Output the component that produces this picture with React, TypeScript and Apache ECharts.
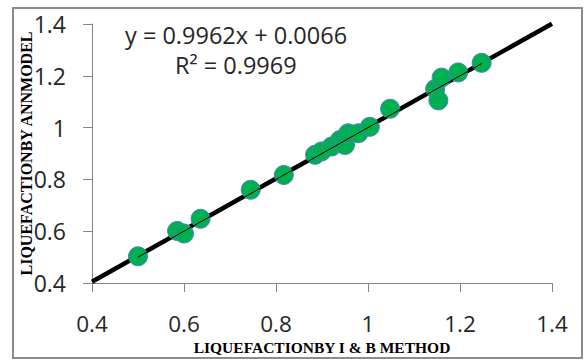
import React, { useEffect, useRef } from "react";
import * as echarts from "echarts";

const xTicks = [0.4, 0.6, 0.8, 1.0, 1.2, 1.4];
const ibMethod = [0.5, 0.585, 0.6, 0.636, 0.745, 0.817, 0.885, 0.899, 0.921, 0.939, 0.95, 0.957, 0.979, 1.004, 1.048, 1.146, 1.153, 1.16, 1.196, 1.247];
const annModel = [0.503, 0.601, 0.591, 0.648, 0.76, 0.817, 0.895, 0.908, 0.927, 0.952, 0.933, 0.978, 0.978, 1.003, 1.073, 1.149, 1.105, 1.193, 1.213, 1.25];
const slope = 0.9962;
const intercept = 0.0066;
const rSquared = 0.9969;

const FONT = "'Open Sans', sans-serif";
const SERIF = "'Liberation Serif', 'Times New Roman', serif";

export default function App() {
  const ref = useRef<HTMLDivElement>(null);
  useEffect(() => {
    if (!ref.current) return;
    const chart = echarts.init(ref.current, null, { renderer: "svg" });
    const points = ibMethod.map((x, i) => [x, annModel[i]]);
    const xMin = xTicks[0];
    const xMax = xTicks[xTicks.length - 1];
    const trend = [xMin, xMax].map((x) => [x, slope * x + intercept]);
    const dMin = Math.min(...ibMethod);
    const dMax = Math.max(...ibMethod);
    const thin = [[dMin, dMin], [dMax, dMax]];
    chart.setOption({
      animation: false,
      grid: { left: 92, right: 32, top: 24, bottom: 73 },
      xAxis: {
        type: "value",
        min: 0.4,
        max: 1.4,
        interval: 0.2,
        name: "LIQUEFACTIONBY I & B METHOD",
        nameLocation: "middle",
        nameGap: 57,
        nameMoveOverlap: false,
        nameTextStyle: { fontFamily: SERIF, fontWeight: "bold", fontSize: 15.5, lineHeight: 14, color: "#000" },
        axisLine: { show: true, lineStyle: { color: "#868686", width: 1 } },
        axisTick: { show: true, length: 9, lineStyle: { color: "#868686" } },
        axisLabel: {
          fontFamily: FONT,
          fontSize: 22.5,
          lineHeight: 20,
          color: "#262626",
          margin: 30,
          formatter: (v: number) => String(Math.round(v * 10) / 10),
        },
        splitLine: { show: false },
      },
      yAxis: {
        type: "value",
        min: 0.4,
        max: 1.4,
        interval: 0.2,
        name: "LIQUEFACTIONBY ANNMODEL",
        nameLocation: "middle",
        nameGap: 58,
        nameMoveOverlap: false,
        nameTextStyle: { fontFamily: SERIF, fontWeight: "bold", fontSize: 16, color: "#000" },
        axisLine: { show: true, lineStyle: { color: "#868686", width: 1 } },
        axisTick: { show: true, length: 9, lineStyle: { color: "#868686" } },
        axisLabel: {
          fontFamily: FONT,
          fontSize: 23,
          color: "#262626",
          margin: 26,
          formatter: (v: number) => String(Math.round(v * 10) / 10),
        },
        splitLine: { show: false },
      },
      graphic: [
        {
          type: "rect",
          shape: { x: 13, y: 8, width: 569, height: 350 },
          style: { fill: "none", stroke: "#8c8c8c", lineWidth: 2 },
          z: -1,
        },
        {
          type: "text",
          left: 125,
          top: 23,
          style: { text: `y = ${slope}x + ${intercept}`, fontFamily: FONT, fontSize: 23.5, fill: "#262626" },
        },
        {
          type: "text",
          left: 175,
          top: 53,
          style: { text: `R² = ${rSquared}`, fontFamily: FONT, fontSize: 23.5, fill: "#262626" },
        },
      ],
      series: [
        {
          type: "line",
          data: trend,
          symbol: "none",
          lineStyle: { color: "#000", width: 4.5 },
          z: 1,
        },
        {
          type: "scatter",
          data: points,
          symbolSize: 19,
          itemStyle: { color: "#00B050", borderColor: "#4F81BD", borderWidth: 1, opacity: 1 },
          z: 2,
        },
        {
          type: "line",
          data: thin,
          symbol: "none",
          lineStyle: { color: "#000", width: 1 },
          z: 3,
        },
      ],
    });
    return () => chart.dispose();
  }, []);
  return <div ref={ref} style={{ position: "fixed", left: 0, top: 0, width: 584, height: 360, background: "#fff" }} />;
}
